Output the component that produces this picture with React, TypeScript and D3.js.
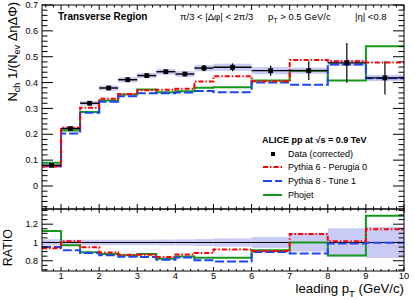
import * as d3 from "d3";
import { useEffect, useRef } from "react";

// leading pT bins (GeV/c)
const binEdges = [0.5, 1, 1.5, 2, 2.5, 3, 3.5, 4, 4.5, 5, 6, 7, 8, 9, 10];

// data (corrected)
const dataVals = [0.08, 0.222, 0.32, 0.379, 0.411, 0.427, 0.442, 0.433, 0.456, 0.459, 0.446, 0.446, 0.476, 0.418];
const statErr = [0.003, 0.003, 0.004, 0.004, 0.005, 0.006, 0.007, 0.008, 0.012, 0.015, 0.02, 0.036, 0.077, 0.064];
const systErr = [0.006, 0.008, 0.009, 0.01, 0.01, 0.01, 0.011, 0.011, 0.012, 0.014, 0.014, 0.012, 0.012, 0.012];
// total relative uncertainty band in the ratio panel
const ratioErr = [0.035, 0.03, 0.03, 0.03, 0.03, 0.03, 0.032, 0.034, 0.038, 0.045, 0.06, 0.1, 0.155, 0.17];

// MC
const perugia0 = [0.075, 0.225, 0.303, 0.337, 0.356, 0.37, 0.372, 0.376, 0.404, 0.424, 0.405, 0.487, 0.482, 0.478];
const tune1 = [0.076, 0.203, 0.283, 0.326, 0.347, 0.359, 0.359, 0.362, 0.367, 0.363, 0.4, 0.392, 0.47, 0.417];
const phojet = [0.09, 0.215, 0.286, 0.331, 0.354, 0.373, 0.363, 0.366, 0.38, 0.382, 0.408, 0.446, 0.408, 0.54];

const xTickLabels = ["1", "2", "3", "4", "5", "6", "7", "8", "9", "10"];
const yTopTicks = [0, 0.1, 0.2, 0.3, 0.4, 0.5, 0.6, 0.7];
const yRatioTicks = [0.8, 1, 1.2];

const FONT = "Liberation Sans, Arial, Helvetica, sans-serif";
const RED = "#ff0000";
const BLUE = "#1f45f0";
const GREEN = "#14991a";
const BAND = "#cacaf6";

export default function App() {
  const ref = useRef<SVGSVGElement | null>(null);

  useEffect(() => {
    if (!ref.current) return;
    const svg = d3.select(ref.current);
    svg.selectAll("*").remove();

    const left = 42;
    const right = 404;
    const top = 5;
    const mid = 209;
    const bottom = 271;

    const x = d3.scaleLinear().domain([0.5, 10]).range([left, right]);
    const y = d3.scaleLinear().domain([-0.089, 0.7]).range([mid, top]);
    const yr = d3.scaleLinear().domain([0.688, 1.366]).range([bottom, mid]);

    const bins = dataVals.map((v, i) => ({
      x0: binEdges[i],
      x1: binEdges[i + 1],
      v,
      stat: statErr[i],
      syst: systErr[i],
      rerr: ratioErr[i],
    }));

    const gTop = svg.append("g");
    const gRat = svg.append("g");

    // systematic bands
    gTop
      .selectAll("rect.band")
      .data(bins)
      .join("rect")
      .attr("x", (d) => x(d.x0))
      .attr("width", (d) => x(d.x1) - x(d.x0))
      .attr("y", (d) => y(d.v + d.syst))
      .attr("height", (d) => y(d.v - d.syst) - y(d.v + d.syst))
      .attr("fill", BAND);

    gRat
      .selectAll("rect.band")
      .data(bins)
      .join("rect")
      .attr("x", (d) => x(d.x0))
      .attr("width", (d) => x(d.x1) - x(d.x0))
      .attr("y", (d) => yr(1 + d.rerr))
      .attr("height", (d) => yr(1 - d.rerr) - yr(1 + d.rerr))
      .attr("fill", BAND);

    gRat
      .append("line")
      .attr("x1", left)
      .attr("x2", right)
      .attr("y1", yr(1))
      .attr("y2", yr(1))
      .attr("stroke", "#000")
      .attr("stroke-width", 1);

    const series = [
      { vals: phojet, color: GREEN, dash: null as string | null },
      { vals: tune1, color: BLUE, dash: "9,3" },
      { vals: perugia0, color: RED, dash: "5,2,1.5,2" },
    ];

    const stepTop = d3
      .line<[number, number]>()
      .x((p) => x(p[0]))
      .y((p) => y(p[1]));
    const stepRat = d3
      .line<[number, number]>()
      .x((p) => x(p[0]))
      .y((p) => yr(p[1]));

    series.forEach((s) => {
      const pts: [number, number][] = s.vals.flatMap((v, i) => [
        [binEdges[i], v] as [number, number],
        [binEdges[i + 1], v] as [number, number],
      ]);
      const rpts: [number, number][] = s.vals.flatMap((v, i) => [
        [binEdges[i], v / dataVals[i]] as [number, number],
        [binEdges[i + 1], v / dataVals[i]] as [number, number],
      ]);
      gTop
        .append("path")
        .attr("d", stepTop(pts))
        .attr("fill", "none")
        .attr("stroke", s.color)
        .attr("stroke-width", 2)
        .attr("stroke-dasharray", s.dash);
      gRat
        .append("path")
        .attr("d", stepRat(rpts))
        .attr("fill", "none")
        .attr("stroke", s.color)
        .attr("stroke-width", 2)
        .attr("stroke-dasharray", s.dash);
    });

    // data points
    const pt = gTop.selectAll("g.pt").data(bins).join("g");
    pt.append("line")
      .attr("x1", (d) => x(d.x0))
      .attr("x2", (d) => x(d.x1))
      .attr("y1", (d) => y(d.v))
      .attr("y2", (d) => y(d.v))
      .attr("stroke", "#000")
      .attr("stroke-width", 1.4);
    pt.append("line")
      .attr("x1", (d) => x((d.x0 + d.x1) / 2))
      .attr("x2", (d) => x((d.x0 + d.x1) / 2))
      .attr("y1", (d) => y(d.v + d.stat))
      .attr("y2", (d) => y(d.v - d.stat))
      .attr("stroke", "#000")
      .attr("stroke-width", 1.2);
    pt.append("rect")
      .attr("x", (d) => x((d.x0 + d.x1) / 2) - 2.4)
      .attr("y", (d) => y(d.v) - 2.4)
      .attr("width", 4.8)
      .attr("height", 4.8)
      .attr("fill", "#000");

    // frames
    [
      [top, mid],
      [mid, bottom],
    ].forEach(([t, b]) => {
      svg
        .append("rect")
        .attr("x", left)
        .attr("y", t)
        .attr("width", right - left)
        .attr("height", b - t)
        .attr("fill", "none")
        .attr("stroke", "#000")
        .attr("stroke-width", 1);
    });

    // ticks
    const tickG = svg.append("g").attr("stroke", "#000").attr("stroke-width", 1);
    const xMinor = d3.range(0.6, 10.01, 0.2);
    const xMajor = d3.range(1, 10.01, 1);
    const xTicks = (yy: number, dir: number, maj: number, min: number) => {
      xMinor.forEach((v) => {
        const isMaj = xMajor.some((m) => Math.abs(m - v) < 1e-6);
        const len = isMaj ? maj : min;
        tickG.append("line").attr("x1", x(v)).attr("x2", x(v)).attr("y1", yy).attr("y2", yy + dir * len);
      });
    };
    xTicks(top, 1, 5, 2.5);
    xTicks(mid, -1, 5, 2.5);
    xTicks(mid, 1, 4, 2);
    xTicks(bottom, -1, 4, 2);

    const yTicks = (sc: d3.ScaleLinear<number, number>, minor: number[], major: number[]) => {
      minor.forEach((v) => {
        const isMaj = major.some((m) => Math.abs(m - v) < 1e-6);
        const len = isMaj ? 11 : 5.5;
        tickG.append("line").attr("x1", left).attr("x2", left + len).attr("y1", sc(v)).attr("y2", sc(v));
        tickG.append("line").attr("x1", right).attr("x2", right - len).attr("y1", sc(v)).attr("y2", sc(v));
      });
    };
    yTicks(y, d3.range(-0.08, 0.7001, 0.02), yTopTicks);
    yTicks(yr, d3.range(0.7, 1.3501, 0.05), yRatioTicks);

    const txt = svg.append("g").attr("font-family", FONT).attr("fill", "#000");

    // tick labels
    txt
      .selectAll("text.yt")
      .data(yTopTicks)
      .join("text")
      .attr("x", 38)
      .attr("y", (d) => y(d))
      .attr("dy", "0.35em")
      .attr("text-anchor", "end")
      .attr("font-size", 9)
      .text((d) => d3.format("~g")(d));
    txt
      .selectAll("text.yr")
      .data(yRatioTicks)
      .join("text")
      .attr("x", 38)
      .attr("y", (d) => yr(d))
      .attr("dy", "0.35em")
      .attr("text-anchor", "end")
      .attr("font-size", 9)
      .text((d) => d3.format("~g")(d));
    txt
      .selectAll("text.xt")
      .data(xTickLabels)
      .join("text")
      .attr("x", (d) => x(+d))
      .attr("y", 279)
      .attr("text-anchor", "middle")
      .attr("font-size", 9.3)
      .text((d) => d);

    // axis titles
    const xt = txt
      .append("text")
      .attr("x", right)
      .attr("y", 293)
      .attr("text-anchor", "end")
      .attr("font-size", 13.2);
    xt.append("tspan").text("leading p");
    xt.append("tspan").attr("font-size", 9.5).attr("dy", 4).text("T");
    xt.append("tspan").attr("dy", -4).text(" (GeV/c)");

    const yt = txt
      .append("text")
      .attr("transform", "translate(17,2) rotate(-90)")
      .attr("text-anchor", "end")
      .attr("font-size", 13);
    yt.append("tspan").text("N");
    yt.append("tspan").attr("font-size", 9).attr("dy", 3).text("ch");
    yt.append("tspan").attr("dy", -3).text(" 1/(N");
    yt.append("tspan").attr("font-size", 9).attr("dy", 3).text("ev");
    yt.append("tspan").attr("dy", -3).text(" ΔηΔΦ)");

    txt
      .append("text")
      .attr("transform", "translate(12,229) rotate(-90)")
      .attr("text-anchor", "end")
      .attr("font-size", 12.5)
      .text("RATIO");

    // header
    txt
      .append("text")
      .attr("x", 58)
      .attr("y", 20)
      .attr("font-size", 10)
      .attr("font-weight", "bold")
      .text("Transverse Region");
    txt.append("text").attr("x", 180).attr("y", 20).attr("font-size", 9.5).text("π/3 < |Δφ| < 2π/3");
    const pt2 = txt.append("text").attr("x", 268).attr("y", 20).attr("font-size", 9.5);
    pt2.append("tspan").text("p");
    pt2.append("tspan").attr("font-size", 7).attr("dy", 3).text("T");
    pt2.append("tspan").attr("dy", -3).text(" > 0.5 GeV/c");
    txt.append("text").attr("x", 355).attr("y", 20).attr("font-size", 9.5).text("|η| <0.8");

    // legend
    txt
      .append("text")
      .attr("x", 262)
      .attr("y", 143)
      .attr("font-size", 9)
      .attr("font-weight", "bold")
      .text("ALICE pp at √s = 0.9 TeV");

    const legend = [
      { label: "Data (corrected)", color: "#000", dash: null as string | null, marker: true },
      { label: "Pythia 6 -  Perugia 0", color: RED, dash: "5,2,1.5,2", marker: false },
      { label: "Pythia 8 -  Tune 1", color: BLUE, dash: "9,3", marker: false },
      { label: "Phojet", color: GREEN, dash: null, marker: false },
    ];
    const legY = [154, 167, 181, 195];
    legend.forEach((l, i) => {
      const ly = legY[i];
      if (l.marker) {
        svg.append("rect").attr("x", 271).attr("y", ly - 2).attr("width", 4).attr("height", 4).attr("fill", "#000");
      } else {
        svg
          .append("line")
          .attr("x1", 263)
          .attr("x2", 282)
          .attr("y1", ly)
          .attr("y2", ly)
          .attr("stroke", l.color)
          .attr("stroke-width", 2)
          .attr("stroke-dasharray", l.dash);
      }
      txt
        .append("text")
        .attr("x", 288)
        .attr("y", ly)
        .attr("dy", "0.35em")
        .attr("font-size", 9)
        .text(l.label);
    });
  }, []);

  return (
    <svg
      ref={ref}
      width={414}
      height={300}
      style={{ position: "absolute", left: 0, top: 0, background: "#fff" }}
    />
  );
}
